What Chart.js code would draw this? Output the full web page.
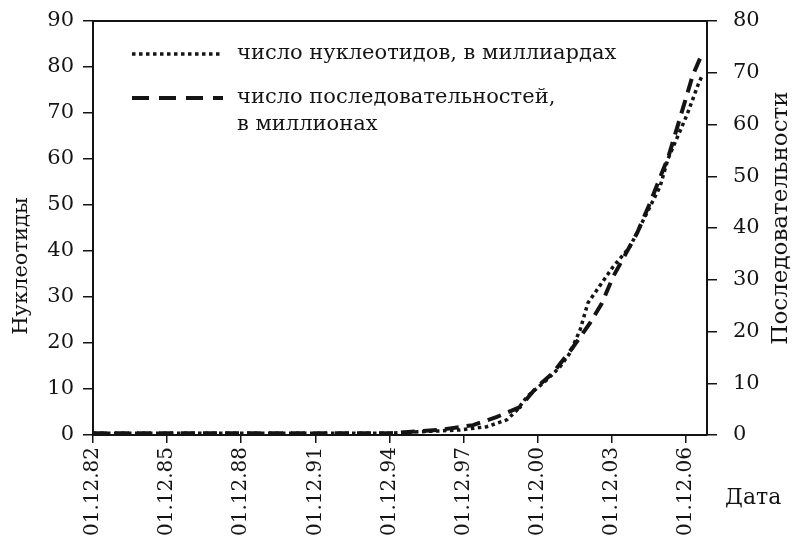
<!DOCTYPE html>
<html lang="ru">
<head>
<meta charset="UTF-8">
<meta name="viewport" content="width=device-width, initial-scale=1.0">
<title>Нуклеотиды и последовательности</title>
<script src="https://cdn.jsdelivr.net/npm/chart.js"></script>
<style>
    html, body { margin: 0; padding: 0; background: #fff; }
    #wrap { width: 793px; height: 543px; position: relative; }
</style>
</head>
<body>
<div id="wrap"><canvas id="growthChart"></canvas></div>
<script>
// x axis ticks (decimal years, 1 Dec of each year)
const tickYears = [1982.92, 1985.92, 1988.92, 1991.92, 1994.92, 1997.92, 2000.92, 2003.92, 2006.92];
const tickLabels = ['01.12.82', '01.12.85', '01.12.88', '01.12.91', '01.12.94', '01.12.97', '01.12.00', '01.12.03', '01.12.06'];

// число нуклеотидов, в миллиардах (left axis)
const nucYears  = [1982.92, 1994.94, 1996.15, 1997.77, 1998.86, 1999.67, 2000.08, 2000.48, 2001.29, 2001.82, 2002.22, 2002.63, 2002.95, 2003.96, 2004.65, 2005.34, 2005.87, 2006.19, 2006.96, 2007.40, 2007.56];
const nucValues = [0.4, 0.4, 0.7, 1.1, 1.8, 3.3, 5.4, 8.3, 12, 14.8, 17.8, 22.8, 28.7, 36.5, 40.9, 48.3, 54, 60, 69.6, 76, 78];

// число последовательностей, в миллионах (right axis)
const seqYears  = [1982.92, 1994.94, 1996.96, 1998.30, 1999.27, 2000.20, 2000.89, 2001.54, 2002.35, 2003.03, 2003.52, 2003.96, 2004.94, 2005.46, 2005.99, 2006.19, 2006.80, 2007.20, 2007.60];
const seqValues = [0.35, 0.35, 1, 1.9, 3.5, 5.4, 9.3, 12, 17, 21.6, 25.5, 30.5, 39, 44.8, 51.2, 53.5, 63.2, 69.6, 74];

const legendLabels = ['число нуклеотидов, в миллиардах', 'число последовательностей,', 'в миллионах'];

const serif = '"DejaVu Serif", "Liberation Serif", serif';
const ink = '#141414';

// fixed sizes for the axes so the plot box sits where the original does
function fixWidth(w) {
    return s => { s.width = w; s.paddingTop = 0; s.paddingBottom = 0; };
}

// frame top line, legend, axis titles and "Дата"
const notes = {
    id: 'notes',
    afterDraw(chart) {
        const ctx = chart.ctx;
        const a = chart.chartArea;
        ctx.save();
        ctx.strokeStyle = ink;
        ctx.lineWidth = 2;
        ctx.beginPath();
        ctx.moveTo(a.left - 1, a.top);
        ctx.lineTo(a.right + 1, a.top);
        ctx.stroke();

        // legend samples
        ctx.lineWidth = 3.5;
        ctx.setLineDash([3.5, 3.5]);
        ctx.beginPath();
        ctx.moveTo(a.left + 39, a.top + 33);
        ctx.lineTo(a.left + 130, a.top + 33);
        ctx.stroke();
        ctx.lineWidth = 4;
        ctx.setLineDash([17, 10]);
        ctx.beginPath();
        ctx.moveTo(a.left + 39, a.top + 77);
        ctx.lineTo(a.left + 130, a.top + 77);
        ctx.stroke();
        ctx.setLineDash([]);

        ctx.fillStyle = ink;
        ctx.font = '21px ' + serif;
        ctx.textAlign = 'left';
        ctx.textBaseline = 'middle';
        ctx.fillText(legendLabels[0], a.left + 144, a.top + 33);
        ctx.fillText(legendLabels[1], a.left + 144, a.top + 77);
        ctx.fillText(legendLabels[2], a.left + 144, a.top + 104);

        // axis titles
        ctx.textAlign = 'center';
        ctx.save();
        ctx.translate(22, 266);
        ctx.rotate(-Math.PI / 2);
        ctx.fillText('Нуклеотиды', 0, 0);
        ctx.restore();
        ctx.font = '23px ' + serif;
        ctx.save();
        ctx.translate(781, 218);
        ctx.rotate(-Math.PI / 2);
        ctx.fillText('Последовательности', 0, 0);
        ctx.restore();

        ctx.font = '22px ' + serif;
        ctx.textAlign = 'left';
        ctx.fillText('Дата', a.right + 18, 498);
        ctx.restore();
    }
};

const ctx = document.getElementById('growthChart').getContext('2d');
const chart = new Chart(ctx, {
    type: 'line',
    data: {
        datasets: [{
            label: legendLabels[0],
            data: nucYears.map((x, i) => ({ x: x, y: nucValues[i] })),
            yAxisID: 'y',
            borderColor: ink,
            borderWidth: 3.5,
            borderDash: [3.5, 3.5],
            pointRadius: 0,
            fill: false,
            tension: 0
        }, {
            label: legendLabels[1] + ' ' + legendLabels[2],
            data: seqYears.map((x, i) => ({ x: x, y: seqValues[i] })),
            yAxisID: 'y1',
            borderColor: ink,
            borderWidth: 4,
            borderDash: [14, 8],
            pointRadius: 0,
            fill: false,
            tension: 0
        }]
    },
    options: {
        responsive: true,
        maintainAspectRatio: false,
        animation: false,
        devicePixelRatio: 1,
        layout: { padding: { top: 21, left: 0, right: 0, bottom: 0 } },
        plugins: {
            legend: { display: false },
            tooltip: { enabled: false }
        },
        scales: {
            x: {
                type: 'linear',
                position: 'bottom',
                min: 1982.92,
                max: 2007.77,
                afterBuildTicks: s => { s.ticks = tickYears.map(v => ({ value: v })); },
                afterFit: s => { s.height = 108; s.paddingLeft = 0; s.paddingRight = 0; },
                ticks: {
                    autoSkip: false,
                    minRotation: 90,
                    maxRotation: 90,
                    padding: 4,
                    color: ink,
                    font: { family: serif, size: 20 },
                    callback: (v, i) => tickLabels[i]
                },
                grid: { drawOnChartArea: false, tickLength: 8, color: ink, lineWidth: 1.5 },
                border: { color: ink, width: 2 }
            },
            y: {
                position: 'left',
                min: 0,
                max: 90,
                afterFit: fixWidth(93),
                ticks: {
                    stepSize: 10,
                    padding: 9,
                    color: ink,
                    font: { family: serif, size: 21 }
                },
                grid: { drawOnChartArea: false, tickLength: 10, color: ink, lineWidth: 1.5 },
                border: { color: ink, width: 2 }
            },
            y1: {
                position: 'right',
                min: 0,
                max: 80,
                afterFit: fixWidth(86),
                ticks: {
                    stepSize: 10,
                    padding: 16,
                    color: ink,
                    font: { family: serif, size: 21 }
                },
                grid: { drawOnChartArea: false, tickLength: 10, color: ink, lineWidth: 1.5 },
                border: { color: ink, width: 2 }
            }
        }
    },
    plugins: [notes]
});
</script>
</body>
</html>
